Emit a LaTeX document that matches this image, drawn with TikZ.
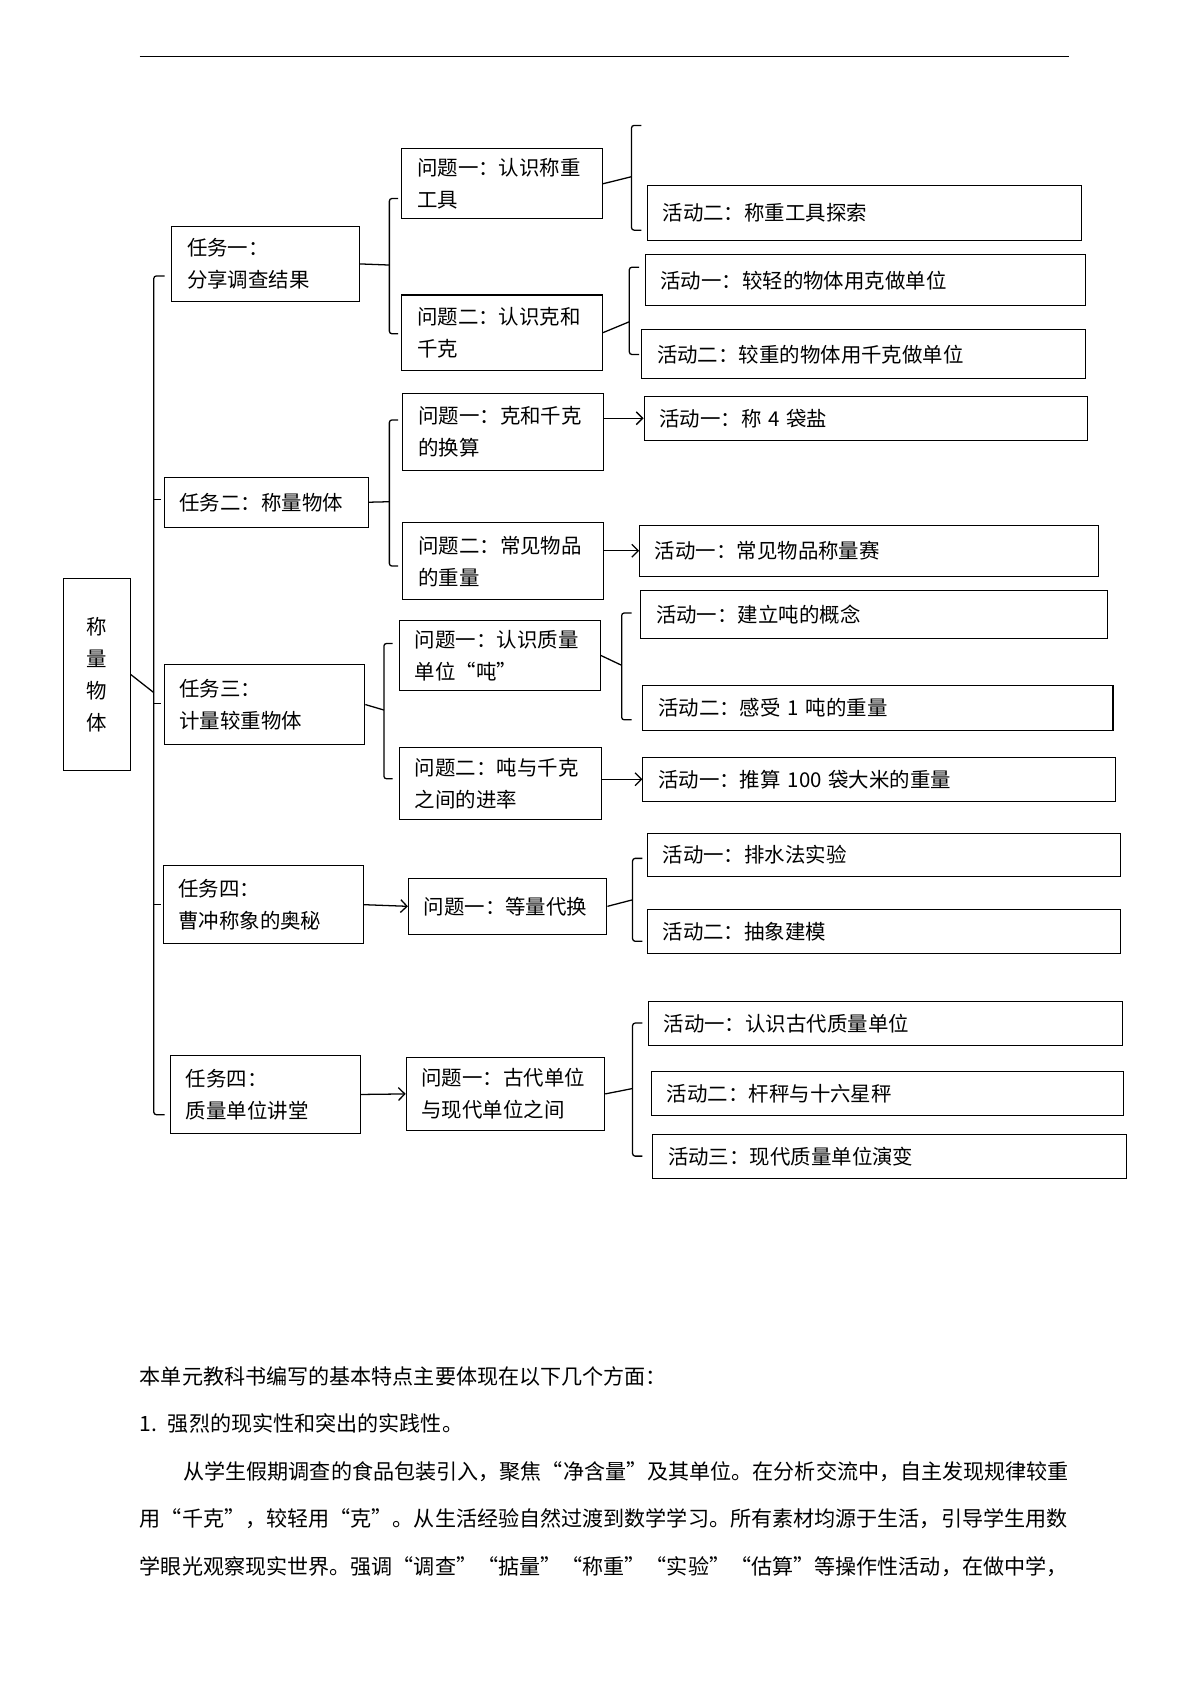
\documentclass[tikz,border=0pt]{standalone}
\usepackage{fontspec}
\setmainfont{Noto Sans CJK SC}
\usetikzlibrary{arrows.meta}
\begin{document}
\begin{tikzpicture}[x=0.03cm, y=-0.03cm,
        every node/.style={font=\fontsize{16}{25}\selectfont},
        box/.style 2 args={draw, line width=0.8pt, anchor=north west, align=left, inner xsep=0.42cm, inner ysep=0pt,
            minimum width={#1*0.03cm}, minimum height={#2*0.03cm}, text width={#1*0.03cm-0.84cm}},
        br/.style={line width=1pt, rounded corners=2pt},
        arr/.style={line width=1pt, -{Straight Barb[length=5pt, width=10pt, line width=1pt]}},
        para/.style={anchor=west, inner sep=0pt, font=\fontsize{16.5}{25}\selectfont}
    ]
        \useasboundingbox (0,0) rectangle (1100,1555);
        \draw[line width=0.8pt] (128,52) -- (980,52);

        % root and tasks
        \node[box={61}{176}, align=center, inner xsep=0pt, text width=1cm] (root) at (58,530) {称\\量\\物\\体};
        \node[box={172}{69}] (t1) at (157,207) {任务一：\\分享调查结果};
        \node[box={187}{46}] (t2) at (150,437) {任务二：称量物体};
        \node[box={184}{73}] (t3) at (150,609) {任务三：\\计量较重物体};
        \node[box={184}{72}] (t4) at (149,793) {任务四：\\曹冲称象的奥秘};
        \node[box={174}{72}] (t5) at (156,967) {任务四：\\质量单位讲堂};

        % questions
        \node[box={184}{64}] (q11) at (368,136) {问题一：认识称重\\工具};
        \node[box={184}{69}] (q12) at (368,270) {问题二：认识克和\\千克};
        \node[box={184}{71}] (q21) at (369,360) {问题一：克和千克\\的换算};
        \node[box={184}{70}] (q22) at (369,479) {问题二：常见物品\\的重量};
        \node[box={184}{65}] (q31) at (366,568) {问题一：认识质量\\单位“吨”};
        \node[box={185}{66}] (q32) at (366,685) {问题二：吨与千克\\之间的进率};
        \node[box={182}{51}] (q41) at (374,805) {问题一：等量代换};
        \node[box={182}{67}] (q51) at (372,969) {问题一：古代单位\\与现代单位之间};

        % activities
        \node[box={398}{50}] (a11) at (593,170) {活动二：称重工具探索};
        \node[box={404}{47}] (a121) at (591,233) {活动一：较轻的物体用克做单位};
        \node[box={407}{45}] (a122) at (588,302) {活动二：较重的物体用千克做单位};
        \node[box={407}{40}] (a21) at (590,363) {活动一：称 4 袋盐};
        \node[box={421}{47}] (a22) at (586,481) {活动一：常见物品称量赛};
        \node[box={428}{44}] (a311) at (587,541) {活动一：建立吨的概念};
        \node[box={431}{41}] (a312) at (589,628) {活动二：感受 1 吨的重量};
        \node[box={433}{40}] (a32) at (589,694) {活动一：推算 100 袋大米的重量};
        \node[box={434}{39}] (a411) at (593,764) {活动一：排水法实验};
        \node[box={434}{41}] (a412) at (593,833) {活动二：抽象建模};
        \node[box={435}{40}] (a511) at (594,918) {活动一：认识古代质量单位};
        \node[box={433}{40}] (a512) at (597,982) {活动二：杆秤与十六星秤};
        \node[box={434}{40}] (a513) at (598,1040) {活动三：现代质量单位演变};

        % brackets
        \draw[br] (root.east) -- (141,635);
        \draw[br] (151,253) -- (141,253) -- (141,1022) -- (151,1022);
        \foreach \y in {458,645,829} \draw[line width=1pt] (141,\y) -- (148,\y);
        \draw[br] (t1.east) -- (357,243);
        \draw[br] (365,182) -- (357,182) -- (357,306) -- (365,306);
        \draw[br] (t2.east) -- (357,460);
        \draw[br] (365,385) -- (357,385) -- (357,519) -- (365,519);
        \draw[br] (t3.east) -- (352,651);
        \draw[br] (360,590) -- (352,590) -- (352,714) -- (360,714);
        \draw[br] (q11.east) -- (579,162);
        \draw[br] (588,115) -- (579,115) -- (579,211) -- (588,211);
        \draw[br] (q12.east) -- (577,295);
        \draw[br] (586,245) -- (577,245) -- (577,325) -- (586,325);
        \draw[br] (q31.east) -- (570,610);
        \draw[br] (579,562) -- (570,562) -- (570,660) -- (579,660);
        \draw[br] (q41.east) -- (580,825);
        \draw[br] (589,787) -- (580,787) -- (580,863) -- (589,863);
        \draw[br] (q51.east) -- (580,998);
        \draw[br] (589,938) -- (580,938) -- (580,1060) -- (589,1060);

        % arrows
        \draw[arr] (q21.east |- a21.west) -- (a21.west);
        \draw[arr] (q22.east |- a22.west) -- (a22.west);
        \draw[arr] (q32.east |- a32.west) -- (a32.west);
        \draw[arr] (t4.east) -- (q41.west);
        \draw[arr] (t5.east) -- (q51.west);

        % text below
        \node[para] (p1) at (128,1262) {本单元教科书编写的基本特点主要体现在以下几个方面：};
        \node[para] (p2) at (128,1305) {1.\hspace{0.5em}强烈的现实性和突出的实践性。};
        \node[para] (p3) at (168,1349) {从学生假期调查的食品包装引入，聚焦“净含量”及其单位。在分析交流中，自主发现规律较重};
        \node[para] (p4) at (128,1392) {用“千克”，较轻用“克”。从生活经验自然过渡到数学学习。所有素材均源于生活，引导学生用数};
        \node[para] (p5) at (128,1436) {学眼光观察现实世界。强调“调查”“掂量”“称重”“实验”“估算”等操作性活动，在做中学，};
    \end{tikzpicture}
\end{document}
